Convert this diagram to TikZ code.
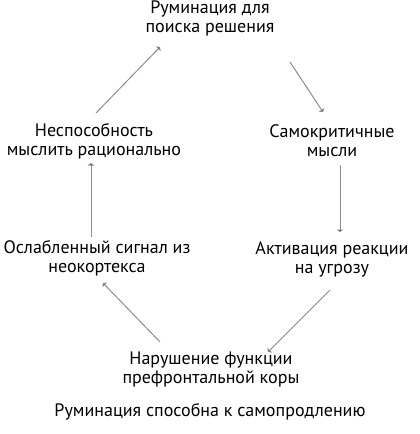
\documentclass[tikz,border=0pt]{standalone}
\usepackage{fontspec}
\setmainfont{PT Sans}
\usepackage{tikz}
\usetikzlibrary{positioning,arrows.meta,calc}
\definecolor{ln}{rgb}{0.55,0.55,0.55}

\begin{document}
\begin{tikzpicture}[x=1pt,y=-1pt, txt/.style={align=center,inner sep=0pt,font=\fontsize{18}{19}\selectfont},
  loop/.style={draw=ln,line width=1pt,-{Triangle[width=6.5pt,length=2.5pt,fill=ln!60!black]}}]
  \useasboundingbox (0,0) rectangle (420,434);
  \node[txt] (rum) at (210,18) {Руминация для\\поиска решения};
  \node[txt] (samo) at (332,141) {Самокритичные\\мысли};
  \node[txt] (aktiv) at (332,259) {Активация реакции\\на угрозу};
  \node[txt] (narush) at (211,369) {Нарушение функции\\префронтальной коры};
  \node[txt] (oslab) at (97,258) {Ослабленный сигнал из\\неокортекса};
  \node[txt] (nesp) at (94,141) {Неспособность\\мыслить рационально};
  \node[txt] (capt) at (210,412) {Руминация способна к самопродлению};
  \draw[loop] ($(rum)+(80,44)$) -- ($(samo)+(-9,-29)$);
  \draw[loop] ($(samo)+(8,24)$) -- ($(aktiv)+(8,-27)$);
  \draw[loop] ($(aktiv)+(-2,31)$) -- ($(narush)+(57,-17)$);
  \draw[loop] ($(narush)+(-51,-27)$) -- ($(oslab)+(6,25)$);
  \draw[loop] ($(oslab)+(-6,-21)$) -- ($(nesp)+(-3,22)$);
  \draw[loop] ($(nesp)+(2,-28)$) -- ($(rum)+(-50,29)$);
\end{tikzpicture}
\end{document}
